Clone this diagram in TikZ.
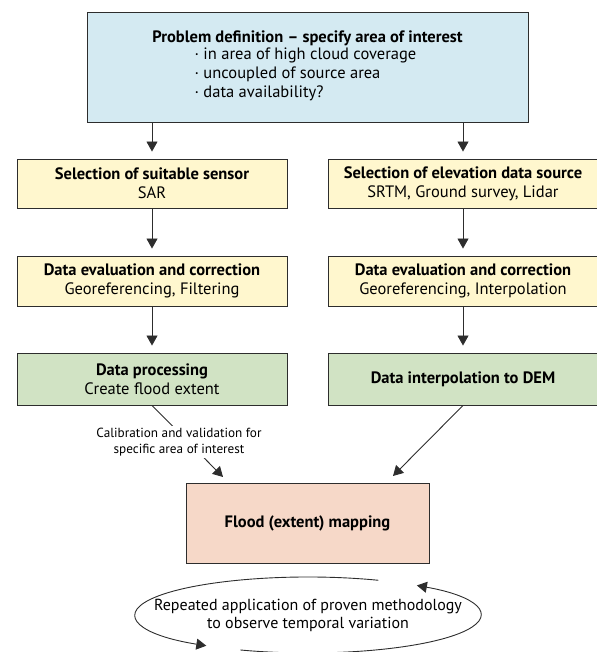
\documentclass[tikz,border=0pt]{standalone}
\usepackage{fontspec}
\setmainfont{PT Sans}
\usetikzlibrary{arrows.meta}
\definecolor{cblue}{RGB}{212,234,242}
\definecolor{cyellow}{RGB}{255,247,206}
\definecolor{cgreen}{RGB}{209,227,196}
\definecolor{cpeach}{RGB}{246,216,200}
\definecolor{cline}{RGB}{45,45,45}
\begin{document}
\begin{tikzpicture}[x=1pt,y=1pt,
  box/.style={draw=cline, line width=0.9pt, rectangle, inner sep=0pt, align=center,
    font=\fontsize{16.5}{19}\selectfont},
  colbox/.style={box, minimum width=270pt},
  conn/.style={draw=cline, line width=0.9pt, -{Triangle[length=10pt,width=11pt]}},
  shortconn/.style={conn, shorten >=7pt}]
\useasboundingbox (0,0) rectangle (596,652);
% boxes
\node[box, fill=cblue, minimum width=441pt, minimum height=110pt] (prob) at (307.5,585)
  {\textbf{Problem definition -- specify area of interest}\\
   \begin{tabular}{@{}l@{}}\textperiodcentered\ in area of high cloud coverage\\
   \textperiodcentered\ uncoupled of source area\\
   \textperiodcentered\ data availability?\end{tabular}\hspace*{4pt}};
\node[colbox, fill=cyellow, minimum height=49pt] (sens) at (152,468.5)
  {\textbf{Selection of suitable sensor}\\SAR};
\node[colbox, fill=cyellow, minimum height=49pt] (elev) at (463,468.5)
  {\textbf{Selection of elevation data source}\\SRTM, Ground survey, Lidar};
\node[colbox, fill=cyellow, minimum height=50pt] (evalL) at (152,371)
  {\textbf{Data evaluation and correction}\\Georeferencing, Filtering};
\node[colbox, fill=cyellow, minimum height=50pt] (evalR) at (463,371)
  {\textbf{Data evaluation and correction}\\Georeferencing, Interpolation};
\node[colbox, fill=cgreen, minimum height=52pt] (proc) at (152,273)
  {\textbf{Data processing}\\Create flood extent};
\node[colbox, fill=cgreen, minimum height=52pt] (dem) at (463,273)
  {\textbf{Data interpolation to DEM}};
\node[box, fill=cpeach, minimum width=243pt, minimum height=80pt] (flood) at (307.5,129)
  {\textbf{Flood (extent) mapping}};
% straight connectors
\draw[shortconn] (prob.south -| sens) -- (sens.north);
\draw[shortconn] (prob.south -| elev) -- (elev.north);
\draw[shortconn] (sens) -- (evalL);
\draw[shortconn] (elev) -- (evalR);
\draw[shortconn] (evalL) -- (proc);
\draw[shortconn] (evalR) -- (proc.north -| dem);
% diagonal connectors
\coordinate (tipL) at (223,175);
\coordinate (tipR) at (393,176);
\draw[conn] (proc.south) -- (tipL);
\draw[conn] (dem.south) -- (tipR);
\node[fill=white, inner sep=2pt, align=center, font=\fontsize{13.2}{16}\selectfont] (calib) at (179,210)
  {Calibration and validation for\\specific area of interest};
% repetition ellipse
\coordinate (ec) at (308,37);
\node[align=center, font=\fontsize{16}{18}\selectfont] (rep) at (ec)
  {Repeated application of proven methodology\\to observe temporal variation};
\draw[conn] ([shift={(ec)}]66:173 and 38) arc[start angle=66, end angle=234, x radius=173, y radius=38];
\draw[conn] ([shift={(ec)}]247:173 and 38) arc[start angle=247, end angle=411, x radius=173, y radius=38];
\end{tikzpicture}
\end{document}
